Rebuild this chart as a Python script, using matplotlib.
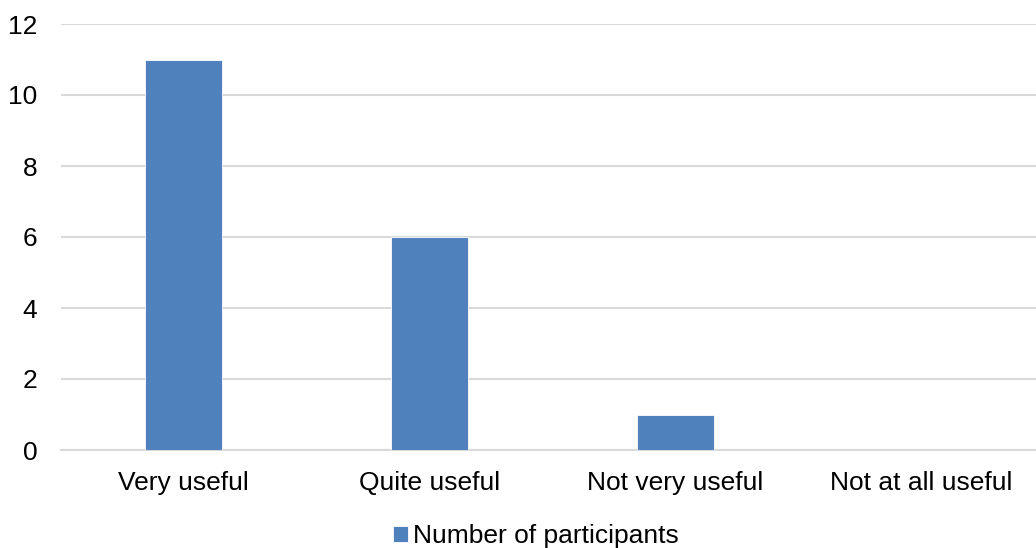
import matplotlib.pyplot as plt
import numpy as np

plt.rcParams['font.family'] = ['Liberation Sans', 'DejaVu Sans']

categories = ["Very useful", "Quite useful", "Not very useful", "Not at all useful"]
participants = [11, 6, 1, 0]
yticks = [0, 2, 4, 6, 8, 10, 12]

bar_color = "#4F81BD"
grid_color = "#D9D9D9"

fig = plt.figure(figsize=(10.36, 5.48), dpi=100)
# plot area runs a little past the right edge of the canvas
ax = fig.add_axes([61 / 1036, 1 - 450 / 548, (1044 - 61) / 1036, (450 - 24) / 548])

x = np.arange(len(categories))
bars = ax.bar(x, participants, width=0.313, color=bar_color, edgecolor="white",
              linewidth=0.6, label="Number of participants", zorder=3)

ax.set_xlim(-0.5, len(categories) - 0.5)
ax.set_ylim(0, 12)
ax.set_yticks(yticks)
ax.set_xticks(x)
ax.set_xticklabels(categories)
ax.tick_params(axis="both", length=0, labelsize=19, colors="black")
ax.tick_params(axis="x", pad=15)
ax.tick_params(axis="y", pad=17)

ax.grid(axis="y", color=grid_color, linewidth=1.5, zorder=0)
for side in ["top", "right", "left"]:
    ax.spines[side].set_visible(False)
ax.spines["bottom"].set_color(grid_color)
ax.spines["bottom"].set_linewidth(1.5)

fig.legend(handles=[bars], loc="center", bbox_to_anchor=(536 / 1036, 1 - 536 / 548),
           frameon=False, fontsize=19, handlelength=0.55, handleheight=0.55,
           handletextpad=0.2, borderpad=0)

fig.savefig("out.png", dpi=100)
